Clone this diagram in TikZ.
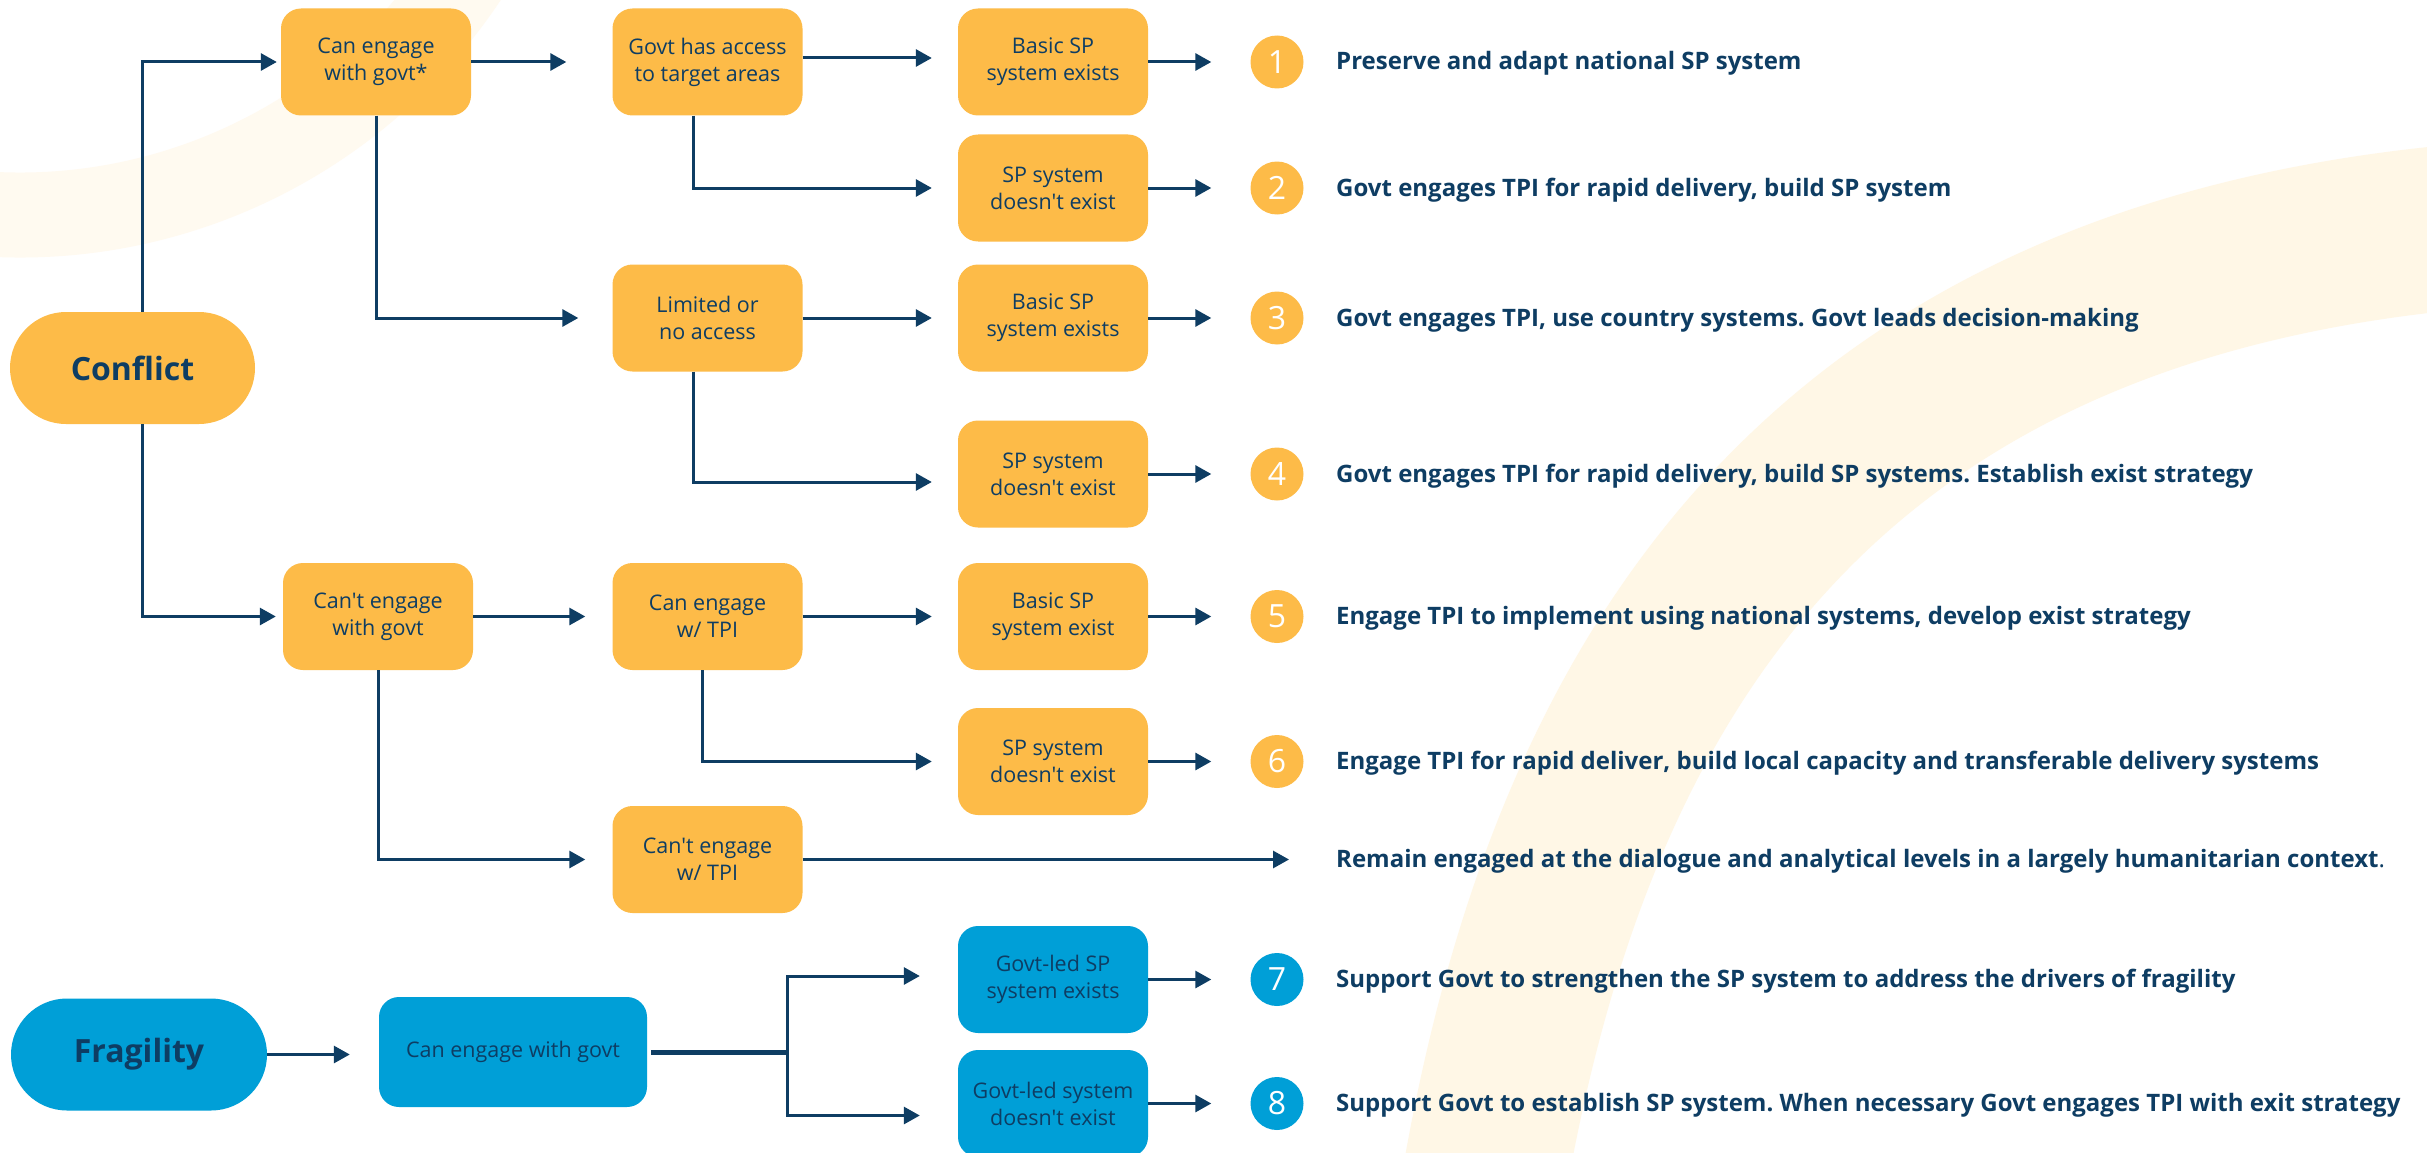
\documentclass[tikz,border=0pt]{standalone}
\usepackage{fontspec}
\setmainfont{Open Sans}
\newfontfamily\osans{Open Sans}
\usetikzlibrary{arrows.meta}
\definecolor{org}{HTML}{FDBB48}
\definecolor{blu}{HTML}{009FD7}
\definecolor{nav}{HTML}{0E3D63}
\definecolor{brush}{HTML}{FFF4DE}
\frenchspacing
\begin{document}
\begin{tikzpicture}[x=1pt,y=-1pt,
 box/.style={rounded corners=20pt, minimum width=190pt, minimum height=107pt, inner sep=0pt, align=center, text=nav, font=\osans\fontsize{21.5}{27}\selectfont},
 obox/.style={box, fill=org},
 bbox/.style={box, fill=blu},
 pill/.style={rounded corners=56pt, minimum height=112pt, inner sep=0pt, text=nav, font=\osans\fontsize{32}{38}\selectfont\bfseries},
 num/.style={circle, minimum size=53pt, inner sep=0pt, text=white, font=\osans\fontsize{32}{32}\selectfont},
 res/.style={anchor=base west, text=nav, font=\osans\fontsize{24}{28}\selectfont\bfseries, inner sep=0pt},
 conn/.style={draw=nav, line width=3pt, -{Triangle[length=16pt,width=17pt]}},
 seg/.style={draw=nav, line width=5pt}
]
\useasboundingbox (0,0) rectangle (2427,1153);
\fill[white] (0,0) rectangle (2427,1153);
% background brush strokes
\draw[brush!45, line width=85pt] (20,-320) ++(100:535) arc[start angle=100, end angle=28, radius=535];
\draw[brush!75, line width=165pt] (1478,1220) .. controls (1560,700) and (1800,280) .. (2480,225);

% nodes
\node[pill, fill=org, minimum width=245pt] (conf) at (132.5,368) {Conflict};
\node[pill, fill=blu, minimum width=256pt] (frag) at (139,1054.5) {Fragility};
\node[obox] (ceg) at (376,62) {Can engage\\with govt*};
\node[obox] (gha) at (707.5,62) {Govt has access\\to target areas};
\node[obox] (b1) at (1053,62) {Basic SP\\system exists};
\node[obox] (b2) at (1053,188) {SP system\\doesn't exist};
\node[obox] (lim) at (707.5,318) {Limited or\\no access};
\node[obox] (b3) at (1053,318) {Basic SP\\system exists};
\node[obox] (b4) at (1053,474) {SP system\\doesn't exist};
\node[obox] (cng) at (378,616.5) {Can't engage\\with govt};
\node[obox] (cet) at (707.5,616.5) {Can engage\\w/ TPI};
\node[obox] (b5) at (1053,616.5) {Basic SP\\system exist};
\node[obox] (b6) at (1053,761.5) {SP system\\doesn't exist};
\node[obox] (cnt) at (707.5,859.5) {Can't engage\\w/ TPI};
\node[bbox, minimum width=268pt, minimum height=110pt] (bce) at (513,1052) {Can engage with govt};
\node[bbox] (g7) at (1053,979.5) {Govt-led SP\\system exists};
\node[bbox] (g8) at (1053,1103.5) {Govt-led system\\doesn't exist};

% numbered circles
\node[num, fill=org] (n1) at (1277,62) {1};
\node[num, fill=org] (n2) at (1277,188) {2};
\node[num, fill=org] (n3) at (1277,318) {3};
\node[num, fill=org] (n4) at (1277,474) {4};
\node[num, fill=org] (n5) at (1277,616.5) {5};
\node[num, fill=org] (n6) at (1277,761.5) {6};
\node[num, fill=blu] (n7) at (1277,979.5) {7};
\node[num, fill=blu] (n8) at (1277,1103.5) {8};

% results
\node[res] (r1) at (1336,70) {Preserve and adapt national SP system};
\node[res] (r2) at (1336,196) {Govt engages TPI for rapid delivery, build SP system};
\node[res] (r3) at (1336,326) {Govt engages TPI, use country systems. Govt leads decision-making};
\node[res] (r4) at (1336,482) {Govt engages TPI for rapid delivery, build SP systems. Establish exist strategy};
\node[res] (r5) at (1336,624.5) {Engage TPI to implement using national systems, develop exist strategy};
\node[res] (r6) at (1336,769.5) {Engage TPI for rapid deliver, build local capacity and transferable delivery systems};
\node[res] (rrem) at (1336,867.5) {Remain engaged at the dialogue and analytical levels in a largely humanitarian context{\mdseries .}};
\node[res] (r7) at (1336,987.5) {Support Govt to strengthen the SP system to address the drivers of fragility};
\node[res] (r8) at (1336,1111.5) {Support Govt to establish SP system. When necessary Govt engages TPI with exit strategy};

% connectors
\draw[conn, shorten >=4pt] ([xshift=9.5pt]conf.north) |- (ceg.west);
\draw[conn, shorten >=7pt] ([xshift=9.5pt]conf.south) |- (cng.west);
\draw[conn, shorten >=46pt] (ceg.east) -- (gha.west);
\draw[conn, shorten >=26pt] ([yshift=4pt]gha.east) -- ([yshift=4pt]b1.west);
\draw[conn, shorten >=34pt] (ceg.south) |- (lim.west);
\draw[conn, shorten >=26pt] ([xshift=-14.5pt]gha.south) |- (b2.west);
\draw[conn, shorten >=26pt] (lim.east) -- (b3.west);
\draw[conn, shorten >=26pt] ([xshift=-14.5pt]lim.south) |- ([yshift=-8pt]b4.west);
\draw[conn, shorten >=27pt] (cng.east) -- (cet.west);
\draw[conn, shorten >=26pt] (cet.east) -- (b5.west);
\draw[conn, shorten >=26pt] ([xshift=-5.5pt]cet.south) |- (b6.west);
\draw[conn, shorten >=27pt] (cng.south) |- (cnt.west);
\draw[conn, shorten >=47pt] (cnt.east) -- (cnt.east -| rrem.west);
\draw[conn, shorten >=39pt] (b1.east) -- (n1.west);
\draw[conn, shorten >=39pt] (b2.east) -- (n2.west);
\draw[conn, shorten >=39pt] (b3.east) -- (n3.west);
\draw[conn, shorten >=39pt] (b4.east) -- (n4.west);
\draw[conn, shorten >=39pt] (b5.east) -- (n5.west);
\draw[conn, shorten >=39pt] (b6.east) -- (n6.west);
\draw[conn, shorten >=39pt] (g7.east) -- (n7.west);
\draw[conn, shorten >=39pt] (g8.east) -- (n8.west);
\draw[conn, shorten >=29pt] (frag.east) -- (frag.east -| bce.west);
\coordinate (split) at (787,1052);
\draw[seg] ([xshift=4pt]bce.east) -- (split);
\draw[conn, shorten >=38pt] (split) |- ([yshift=3.5pt]g7.west);
\draw[conn, shorten >=38pt] (split) |- ([yshift=-12pt]g8.west);
\end{tikzpicture}
\end{document}
